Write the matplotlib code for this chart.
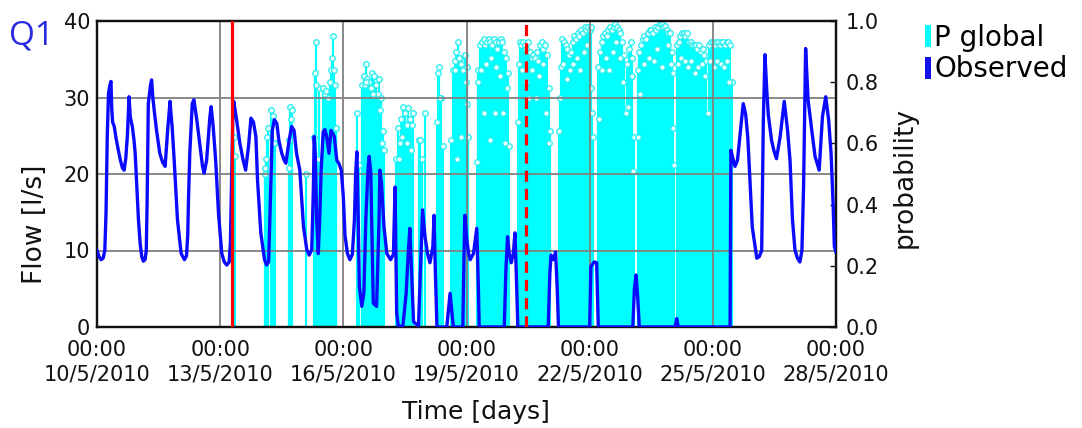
import numpy as np
import matplotlib
matplotlib.use("Agg")
import matplotlib.pyplot as plt
import matplotlib.dates as mdates
from matplotlib.patches import Patch
from matplotlib.ticker import FixedLocator, FuncFormatter

# ---------------- data ----------------
start_date = "2010-05-10T00:00"
end_date = "2010-05-28T00:00"
tick_step_days = 3

# observed flow: time in days since start, value in l/s
flow_days = [0.00,0.05,0.10,0.15,0.19,0.22,0.25,0.28,0.31,0.34,0.36,0.38,0.42,0.47,0.52,0.57,0.62,0.66,0.70,0.74,0.78,0.81,0.86,0.90,0.93,0.97,1.01,1.05,1.09,1.13,1.17,
             1.20,1.22,1.25,1.30,1.33,1.36,1.40,1.45,1.53,1.60,1.66,1.72,1.78,1.80,1.83,1.88,1.96,2.05,2.13,2.18,
             2.21,2.23,2.26,2.32,2.36,2.43,2.51,2.57,2.61,2.67,2.75,2.78,2.83,2.89,2.96,3.04,3.10,
             3.16,3.22,3.25,3.28,3.31,3.33,3.40,3.48,3.56,3.62,3.69,3.75,3.81,3.87,3.91,3.99,4.08,4.13,4.18,
             4.21,4.27,4.32,4.38,4.43,4.50,4.56,4.60,4.68,4.74,4.80,4.86,4.94,5.03,5.11,5.17,5.23,
             5.27,5.29,5.32,5.35,5.39,5.43,5.46,5.51,5.55,5.59,5.65,5.70,5.74,5.78,5.84,5.89,5.95,6.00,6.04,6.10,6.16,6.22,
             6.27,6.30,6.33,6.36,6.39,6.45,6.50,6.55,6.60,6.63,6.67,6.69,6.73,6.81,6.87,6.89,6.93,6.99,7.06,7.15,
             7.22,7.26,7.30,7.34,7.45,7.53,7.58,7.62,7.66,7.71,7.83,7.88,7.93,7.99,8.05,8.11,8.18,8.21,8.24,8.28,
             8.52,8.56,8.60,8.64,8.68,8.91,8.94,8.96,9.00,9.05,9.09,9.17,9.25,9.29,9.31,9.92,9.96,10.00,10.04,10.09,10.14,10.18,10.21,10.25,
             10.99,11.03,11.06,11.12,11.17,11.21,11.24,12.00,12.03,12.11,12.17,12.21,13.05,13.09,13.13,13.17,13.21,14.08,14.12,14.16,15.42,
             15.44,15.49,15.54,15.60,15.66,15.74,15.80,15.85,15.88,15.96,16.07,16.13,16.19,16.23,16.27,16.31,16.35,16.43,16.49,16.55,16.64,16.74,16.82,16.88,16.94,
             17.00,17.06,17.12,17.17,17.21,17.26,17.32,17.41,17.49,17.59,17.67,17.75,17.82,17.88,17.93,17.96,18.00]
flow_vals = [10.0,9.2,8.8,9.0,10.0,15.0,25.0,30.5,31.5,32.1,28.5,26.8,26.2,24.5,23.1,21.8,20.8,20.5,22.0,25.0,30.1,27.5,26.2,24.5,22.7,18.3,14.0,11.0,9.2,8.6,8.8,
             10.0,16.0,29.2,31.5,32.3,30.0,28.0,25.7,22.7,21.5,21.0,25.7,29.5,28.0,26.2,21.8,14.0,9.6,8.8,9.3,
             12.0,17.0,22.7,29.2,29.7,27.1,23.6,21.0,20.1,21.8,27.5,28.8,26.2,21.8,14.8,9.6,8.5,
             8.1,8.5,11.0,20.0,28.0,29.5,27.1,24.0,21.8,20.5,23.6,27.3,26.8,24.9,19.2,12.3,8.8,8.1,8.5,
             14.0,25.7,27.1,26.6,24.4,22.7,21.8,21.4,24.4,26.2,25.7,22.7,20.5,13.1,10.1,9.4,10.1,
             18.0,24.9,22.0,14.0,9.6,15.0,20.5,25.5,25.8,25.0,22.7,25.7,25.3,24.9,21.8,21.4,20.5,17.0,12.0,9.6,8.8,9.5,
             14.0,20.0,22.9,15.0,5.3,2.7,4.4,14.4,20.5,22.3,20.1,14.0,3.1,2.7,14.0,20.5,18.8,13.1,9.6,8.8,
             9.5,18.3,1.8,0.1,0.1,4.4,9.6,12.9,7.5,0.7,0.1,7.5,15.3,11.8,9.6,8.4,10.5,14.6,7.5,0.0,
             0.0,2.2,4.4,2.2,0.0,0.0,9.6,14.6,11.8,9.6,8.8,9.6,12.9,5.0,0.0,0.0,7.5,11.8,9.6,8.4,9.6,12.3,7.5,0.0,
             0.0,7.0,9.4,8.8,9.8,5.0,0.0,0.0,7.9,8.5,8.4,0.0,0.0,5.0,6.8,3.9,0.0,0.0,1.1,0.0,0.0,
             23.1,22.0,21.0,21.8,25.0,29.2,27.8,24.9,21.8,13.1,9.0,9.2,10.0,27.0,35.6,31.3,27.8,24.4,23.0,22.0,24.9,29.5,25.7,21.8,14.0,
             10.1,9.0,8.5,10.0,18.3,36.4,29.7,25.7,22.3,20.5,27.5,30.1,27.1,22.7,16.0,10.5,9.8]

# P global: hourly values (hours since start)
p_hours = [80, 98, 99, 100, 102, 103, 104, 112, 113, 114, 122,
           127, 128, 129, 130, 131, 132, 133, 134, 135, 136, 137, 138, 139, 140,
           152, 153, 155, 156, 157, 158, 159, 160, 161, 162, 163, 164, 165, 166, 167, 168,
           175, 176, 177, 178, 179, 180, 181, 182, 183, 184, 185, 188, 189, 190, 192,
           199, 200, 201, 202, 207, 208, 209, 210, 211, 212, 213, 214, 215, 216, 217,
           222, 223, 224, 225, 226, 227, 228, 229, 230, 231, 232, 233, 234, 235, 236, 237, 238, 239, 240, 241,
           246, 247, 248, 249, 250, 251, 252, 253, 254, 255, 256, 257, 258, 259, 260, 261, 262, 263, 264, 265,
           270, 271, 272, 273, 274, 275, 276, 277, 278, 279, 280, 281, 282, 283, 284, 285, 286, 287, 288, 289, 290,
           293, 294, 295, 296, 297, 298, 299, 300, 301, 302, 303, 304, 305, 306, 307, 308, 309, 310, 311, 312, 313, 314,
           316, 317, 318, 319, 320, 321, 322, 323, 324, 325, 326, 327, 328, 329, 330, 331, 332, 333, 334, 335, 336, 337,
           339, 340, 341, 342, 343, 344, 345, 346, 347, 348, 349, 350, 351, 352, 353, 354, 355, 356, 357,
           358, 359, 360, 361, 362, 363, 364, 365, 366, 367, 368, 369, 370, 371]
p_vals = [0.62, 0.52, 0.55, 0.65, 0.71, 0.69, 0.60, 0.61, 0.72, 0.71, 0.50,
          0.62, 0.93, 0.55, 0.78, 0.50, 0.78, 0.76, 0.77, 0.75, 0.80, 0.84, 0.95, 0.79, 0.65,
          0.70, 0.53, 0.79, 0.82, 0.86, 0.81, 0.80, 0.78, 0.83, 0.82, 0.79, 0.76, 0.81, 0.75, 0.64, 0.58,
          0.55, 0.65, 0.60, 0.68, 0.72, 0.70, 0.66, 0.715, 0.68, 0.66, 0.70, 0.61, 0.61, 0.55, 0.70,
          0.67, 0.85, 0.75, 0.59, 0.61, 0.84, 0.87, 0.90, 0.93, 0.88, 0.86, 0.84, 0.89, 0.85, 0.62,
          0.54, 0.84, 0.92, 0.93, 0.94, 0.92, 0.93, 0.94, 0.93, 0.92, 0.94, 0.93, 0.91, 0.93, 0.94, 0.93, 0.90, 0.88, 0.83, 0.59,
          0.67, 0.93, 0.92, 0.93, 0.92, 0.91, 0.93, 0.90, 0.88, 0.89, 0.88, 0.90, 0.87, 0.92, 0.93, 0.91, 0.92, 0.89, 0.78, 0.64,
          0.64, 0.85, 0.94, 0.93, 0.92, 0.91, 0.89, 0.90, 0.93, 0.95, 0.94, 0.96, 0.95, 0.97, 0.96, 0.98, 0.97, 0.98, 0.97, 0.98, 0.62,
          0.85, 0.90, 0.93, 0.95, 0.96, 0.95, 0.97, 0.98, 0.97, 0.98, 0.99, 0.98, 0.97, 0.96, 0.93, 0.89, 0.70, 0.86, 0.91, 0.93, 0.88, 0.62,
          0.84, 0.90, 0.92, 0.94, 0.95, 0.94, 0.96, 0.97, 0.97, 0.96, 0.98, 0.97, 0.98, 0.99, 0.99, 0.98, 0.985, 0.97, 0.96, 0.96, 0.90, 0.83,
          0.92, 0.93, 0.95, 0.96, 0.96, 0.95, 0.96, 0.93, 0.93, 0.92, 0.92, 0.92, 0.91, 0.92, 0.90, 0.91, 0.89, 0.87, 0.70,
          0.92, 0.93, 0.93, 0.92, 0.93, 0.93, 0.92, 0.93, 0.93, 0.92, 0.93, 0.93, 0.92, 0.80]

# P global: additional sub-hourly values
p_extra_hours = [80.5, 98.5, 99.5, 103.5, 112.5, 113.5, 127.5, 127.8, 137.5, 138.5, 139.5,
                 156.5, 157.5, 161.5, 165.5, 166.5, 176.5, 178.5, 181.5, 183.5, 199.5, 200.5,
                 209.5, 210.5, 211.5, 212.5, 215.5, 216.5,
                 222.5, 224.5, 226.5, 227.5, 229.5, 230.5, 232.5, 233.5, 235.5, 237.5, 238.5, 239.5,
                 246.5, 248.5, 250.5, 252.5, 254.5, 256.5, 258.5, 260.5, 262.5, 264.5,
                 270.5, 272.5, 274.5, 276.5, 278.5, 280.5, 282.5, 284.5, 286.5, 288.5, 289.5,
                 293.5, 295.5, 297.5, 299.5, 301.5, 303.5, 305.5, 307.5, 310.5, 312.5, 313.5,
                 316.5, 317.5, 319.5, 322.5, 325.5, 327.5, 330.5, 333.5, 335.5, 336.5, 337.5,
                 339.5, 341.5, 343.5, 345.5, 347.5, 349.5, 351.5, 353.5, 355.5,
                 358.5, 360.5, 362.5, 364.5, 366.5, 368.5, 369.5]
p_extra_vals = [0.56, 0.50, 0.62, 0.60, 0.52, 0.68, 0.83, 0.79, 0.88, 0.84, 0.65,
                0.79, 0.80, 0.76, 0.71, 0.60, 0.55, 0.62, 0.60, 0.58, 0.83, 0.75,
                0.84, 0.55, 0.88, 0.62, 0.80, 0.73,
                0.80, 0.84, 0.70, 0.86, 0.61, 0.88, 0.70, 0.85, 0.82, 0.70, 0.60, 0.78,
                0.86, 0.84, 0.80, 0.75, 0.84, 0.75, 0.82, 0.86, 0.70, 0.60,
                0.75, 0.86, 0.81, 0.84, 0.86, 0.88, 0.84, 0.90, 0.92, 0.78, 0.70,
                0.68, 0.84, 0.88, 0.84, 0.90, 0.93, 0.88, 0.80, 0.72, 0.82, 0.51,
                0.62, 0.76, 0.86, 0.88, 0.87, 0.91, 0.85, 0.92, 0.86, 0.65, 0.53,
                0.86, 0.88, 0.87, 0.85, 0.87, 0.83, 0.85, 0.86, 0.82,
                0.87, 0.85, 0.87, 0.86, 0.85, 0.87, 0.80]

red_solid_time = "2010-05-13T07:00"
red_dashed_time = "2010-05-20T10:30"

flow_ticks = [0, 10, 20, 30, 40]
prob_ticks = [0.0, 0.2, 0.4, 0.6, 0.8, 1.0]
legend_labels = ["P global", "Observed"]

# ---------------- helpers ----------------
t0 = np.datetime64(start_date)
def days_to_num(days):
    secs = np.round(np.asarray(days, dtype=float) * 86400).astype("int64")
    return mdates.date2num(t0 + secs.astype("timedelta64[s]"))
def hours_to_num(hours):
    return days_to_num(np.asarray(hours, dtype=float) / 24.0)

CYAN = "#00ffff"
BLUE = "#0a0aff"

W, H = 1082, 428
fig = plt.figure(figsize=(W / 100, H / 100), dpi=100)
ax1 = fig.add_axes([97 / W, 1 - 327 / H, (836 - 97) / W, (327 - 21) / H])
ax2 = ax1.twinx()

# probability stems (behind)
ph = np.concatenate([hours_to_num(p_hours), hours_to_num(p_extra_hours)])
pv = np.concatenate([np.asarray(p_vals), np.asarray(p_extra_vals)])
ax2.vlines(ph, 0, pv, color=CYAN, lw=1.55, zorder=1)
ax2.plot(ph, pv, linestyle="none", marker="o", ms=4.0, mfc="#e8ffff",
         mec="#22eeee", mew=0.9, zorder=2)
ax2.set_ylim(0, 1.0)

# flow on top
ax1.set_zorder(ax2.get_zorder() + 1)
ax1.patch.set_visible(False)
ax1.plot(days_to_num(flow_days), flow_vals, color=BLUE, lw=2.4, zorder=3,
         solid_joinstyle="round")
ax1.axvline(mdates.date2num(np.datetime64(red_solid_time)), color="#ff0000", lw=2.3, zorder=4)
ax1.axvline(mdates.date2num(np.datetime64(red_dashed_time)), color="#ff0000", lw=2.3,
            linestyle=(0, (3.5, 2.2)), zorder=4)
ax1.set_ylim(0, 40)
x0 = mdates.date2num(np.datetime64(start_date))
x1 = mdates.date2num(np.datetime64(end_date))
ax1.set_xlim(x0, x1)

ax1.set_axisbelow(True)
ax1.grid(True, color="#808080", lw=1.3)

xt = np.arange(x0, x1 + 0.001, tick_step_days)
ax1.xaxis.set_major_locator(FixedLocator(xt))
def fmt_date(x, pos=None):
    d = mdates.num2date(x)
    return f"{d:%H:%M}\n{d.day}/{d.month}/{d.year}"
ax1.xaxis.set_major_formatter(FuncFormatter(fmt_date))
ax1.set_yticks(flow_ticks)
ax2.set_yticks(prob_ticks)
ax2.yaxis.set_major_formatter(FuncFormatter(lambda v, p: f"{v:.1f}"))

FS = 15
ax1.tick_params(axis="x", length=0, pad=9, labelsize=FS, colors="#111111")
for lab in ax1.get_xticklabels():
    lab.set_linespacing(1.3)
ax1.tick_params(axis="y", length=0, pad=5, labelsize=FS, colors="#111111")
ax2.tick_params(axis="y", direction="in", length=4, width=1.0, pad=7,
                labelsize=FS, colors="#111111")

for ax in (ax1, ax2):
    for s in ax.spines.values():
        s.set_linewidth(1.6)
        s.set_color("#111111")

fig.text(9 / W, 1 - 36 / H, "Q1", color="#2a2ae0", fontsize=24,
         family="Open Sans", ha="left", va="center")
fig.text(35 / W, 1 - 224 / H, "Flow [l/s]", rotation=90, fontsize=19,
         ha="center", va="center", color="#111111")
fig.text(905 / W, 1 - 178 / H, "probability", rotation=90, fontsize=19,
         ha="center", va="center", color="#111111")
fig.text(476 / W, 1 - 412 / H, "Time [days]", fontsize=18,
         ha="center", va="center", color="#111111")

handles = [Patch(facecolor=CYAN, edgecolor="none"), Patch(facecolor="#1010e0", edgecolor="none")]
fig.legend(handles, legend_labels, loc="upper left",
           bbox_to_anchor=(925 / W, 1 - 24 / H), frameon=False, fontsize=20,
           handlelength=0.22, handleheight=0.85, handletextpad=0.12,
           labelspacing=0.12, borderpad=0, borderaxespad=0)

fig.savefig("out.png", dpi=100)
